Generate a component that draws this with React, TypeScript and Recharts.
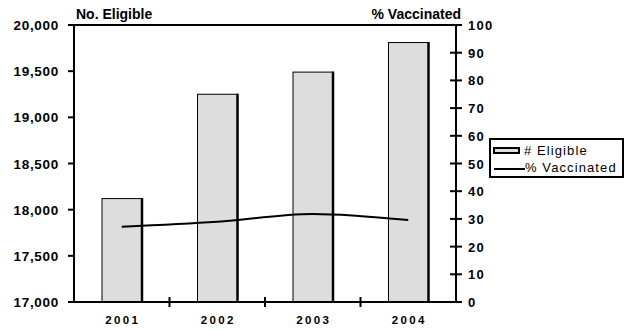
import React from "react";
import {
  ComposedChart,
  Bar,
  Line,
  XAxis,
  YAxis,
  Legend,
  ReferenceLine,
} from "recharts";

// Eligible population (bars, left axis) vs % vaccinated (line, right axis)
const YEARS = ["2001", "2002", "2003", "2004"];
const ELIGIBLE = [18120, 19250, 19490, 19810];
const VACCINATED = [27.2, 29.0, 31.8, 29.6];
const LEFT_TICKS = [17000, 17500, 18000, 18500, 19000, 19500, 20000];
const RIGHT_TICKS = [0, 10, 20, 30, 40, 50, 60, 70, 80, 90, 100];

const FONT = "'Liberation Sans', Arial, sans-serif";
const W = 625;
const H = 329;
const LEFT_W = 74;
const RIGHT_W = 169;
const BAND = (W - LEFT_W - RIGHT_W) / YEARS.length;

const data = YEARS.map((year, i) => ({
  year,
  eligible: ELIGIBLE[i],
  vaccinated: VACCINATED[i],
}));

// bar with a thin outline and a heavier right edge, like the old Excel export
function BarShape(props: any) {
  const { x, y, width, height } = props;
  return (
    <g>
      <rect x={x} y={y} width={width} height={height} fill="#dddddd" stroke="#000" strokeWidth={1} />
      <line x1={x + width} y1={y - 0.5} x2={x + width} y2={y + height} stroke="#000" strokeWidth={2.5} />
    </g>
  );
}

function LeftTick(props: any) {
  const { x, y, payload } = props;
  return (
    <text
      x={x}
      y={y}
      dy={5}
      textAnchor="end"
      fontFamily={FONT}
      fontWeight="bold"
      fontSize={13.5}
      letterSpacing={0.7}
      fill="#000"
    >
      {Number(payload.value).toLocaleString("en-US")}
    </text>
  );
}

function RightTick(props: any) {
  const { x, y, payload } = props;
  const axisX = x - 8; // tickSize 6 + tickMargin 2
  return (
    <g>
      <line x1={axisX - 6} y1={y} x2={axisX + 6} y2={y} stroke="#000" strokeWidth={2} />
      <text
        x={axisX + 12}
        y={y}
        dy={5}
        textAnchor="start"
        fontFamily={FONT}
        fontWeight="bold"
        fontSize={13}
        letterSpacing={1.3}
        fill="#000"
      >
        {payload.value}
      </text>
    </g>
  );
}

function BottomTick(props: any) {
  const { x, y, payload, index } = props;
  const axisY = y - 8;
  return (
    <g>
      {index > 0 && (
        <line
          x1={x - BAND / 2}
          y1={axisY - 5}
          x2={x - BAND / 2}
          y2={axisY + 5}
          stroke="#000"
          strokeWidth={2}
        />
      )}
      <text
        x={x + 1}
        y={axisY + 22}
        textAnchor="middle"
        fontFamily={FONT}
        fontWeight="bold"
        fontSize={11.5}
        letterSpacing={2.3}
        fill="#000"
      >
        {payload.value}
      </text>
    </g>
  );
}

function LegendBox() {
  const text = { fontFamily: FONT, fontSize: 13, letterSpacing: 1.1, color: "#000" };
  return (
    <div
      style={{
        border: "2px solid #000",
        width: 130,
        padding: "2px 0 0 1px",
        background: "#fff",
        lineHeight: "17px",
      }}
    >
      <div style={{ display: "flex", alignItems: "center" }}>
        <svg width={32} height={17}>
          <rect x={2} y={6} width={25} height={5} fill="#dddddd" stroke="#000" strokeWidth={2} />
        </svg>
        <span style={text}># Eligible</span>
      </div>
      <div style={{ display: "flex", alignItems: "center" }}>
        <svg width={33} height={17}>
          <line x1={2} y1={10} x2={33} y2={10} stroke="#000" strokeWidth={2} />
        </svg>
        <span style={text}>% Vaccinated</span>
      </div>
    </div>
  );
}

export default function App() {
  return (
    <div style={{ position: "absolute", left: 0, top: 0, width: W, height: H, background: "#fff" }}>
      <ComposedChart
        width={W}
        height={H}
        data={data}
        margin={{ top: 25, right: 0, bottom: 0, left: 0 }}
      >
        <XAxis
          dataKey="year"
          height={27}
          axisLine={{ stroke: "#000", strokeWidth: 2 }}
          tickLine={false}
          tick={<BottomTick />}
          interval={0}
        />
        <YAxis
          yAxisId="left"
          width={LEFT_W}
          domain={[17000, 20000]}
          ticks={LEFT_TICKS}
          allowDataOverflow
          axisLine={{ stroke: "#000", strokeWidth: 2 }}
          tickLine={{ stroke: "#000", strokeWidth: 2 }}
          tickSize={6}
          tickMargin={9}
          tick={<LeftTick />}
          interval={0}
        />
        <YAxis
          yAxisId="right"
          orientation="right"
          width={RIGHT_W}
          domain={[0, 100]}
          ticks={RIGHT_TICKS}
          axisLine={{ stroke: "#000", strokeWidth: 2 }}
          tickLine={false}
          tick={<RightTick />}
          interval={0}
        />
        <ReferenceLine yAxisId="left" y={20000} stroke="#000" strokeWidth={2} />
        <Bar
          yAxisId="left"
          dataKey="eligible"
          name="# Eligible"
          barSize={40}
          shape={<BarShape />}
          isAnimationActive={false}
        />
        <Line
          yAxisId="right"
          dataKey="vaccinated"
          name="% Vaccinated"
          type="monotone"
          stroke="#000"
          strokeWidth={2}
          dot={false}
          isAnimationActive={false}
        />
        <Legend
          layout="vertical"
          align="center"
          verticalAlign="middle"
          content={<LegendBox />}
          wrapperStyle={{ left: 489, top: 138, width: 136 }}
        />
        <text x={76} y={19} fontFamily={FONT} fontWeight="bold" fontSize={14} fill="#000">
          No. Eligible
        </text>
        <text x={461} y={19} textAnchor="end" fontFamily={FONT} fontWeight="bold" fontSize={14} fill="#000">
          % Vaccinated
        </text>
      </ComposedChart>
    </div>
  );
}
